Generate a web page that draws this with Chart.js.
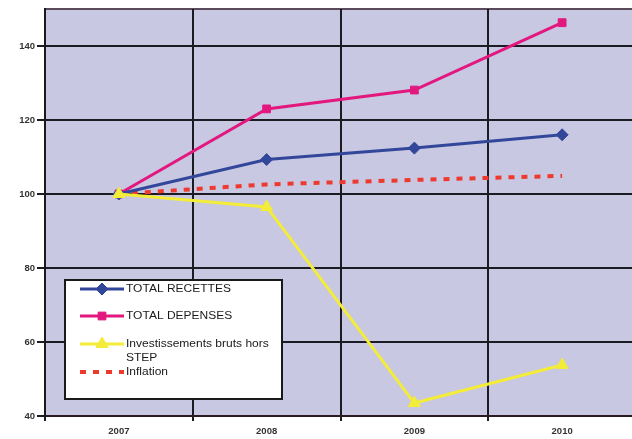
<!DOCTYPE html>
<html><head><meta charset="utf-8">
<script src="https://cdn.jsdelivr.net/npm/chart.js@4/dist/chart.umd.min.js"></script>
<style>html,body{margin:0;padding:0;background:#fff;overflow:hidden}#wrap{width:632px;height:439px;overflow:hidden}canvas{display:block}</style>
</head><body><div id="wrap"><canvas id="c" width="636" height="439"></canvas></div>
<script>
// Index values (2007 = 100)
const years = ['2007', '2008', '2009', '2010'];
const totalRecettes = [100, 109.3, 112.4, 116];
const totalDepenses = [100, 123, 128.1, 146.3];
const investissements = [100, 96.5, 43.5, 53.8];
const inflation = [100, 102.6, 103.8, 104.9];
const yTicks = [40, 60, 80, 100, 120, 140];

const PLOT_BG = '#c8c8e2';
const GRID = '#1c1a22';

// Plot area fill and top border
const plotBackground = {
  id: 'plotBackground',
  beforeDraw(chart) {
    const { ctx, chartArea: a } = chart;
    ctx.save();
    ctx.fillStyle = PLOT_BG;
    ctx.fillRect(a.left, a.top, a.right - a.left, a.bottom - a.top);
    ctx.strokeStyle = '#5a4a5a';
    ctx.lineWidth = 2;
    ctx.beginPath();
    ctx.moveTo(a.left, a.top);
    ctx.lineTo(a.right, a.top);
    ctx.stroke();
    ctx.restore();
  }
};

// Boxed legend drawn inside the plot area
const boxedLegend = {
  id: 'boxedLegend',
  afterDraw(chart) {
    const { ctx } = chart;
    const box = { x: 65, y: 280, w: 217, h: 119 };
    const rows = [289, 316, 344, 372];
    ctx.save();
    ctx.fillStyle = '#ffffff';
    ctx.fillRect(box.x, box.y, box.w, box.h);
    ctx.strokeStyle = '#1a1a1a';
    ctx.lineWidth = 2;
    ctx.strokeRect(box.x, box.y, box.w, box.h);
    ctx.font = '10px "Liberation Sans", Arial, sans-serif';
    ctx.textBaseline = 'middle';
    chart.data.datasets.forEach((ds, i) => {
      const y = rows[i];
      ctx.strokeStyle = ds.borderColor;
      ctx.lineWidth = ds.borderDash ? 4 : 3;
      ctx.setLineDash(ds.borderDash || []);
      ctx.beginPath();
      ctx.moveTo(80, y);
      ctx.lineTo(124, y);
      ctx.stroke();
      ctx.setLineDash([]);
      if (ds.pointRadius > 0) {
        ctx.fillStyle = ds.pointBackgroundColor;
        ctx.strokeStyle = ds.borderColor;
        ctx.lineWidth = 1;
        Chart.helpers.drawPoint(ctx, {
          pointStyle: ds.pointStyle, radius: ds.pointRadius, borderWidth: 1
        }, 102, y);
      }
      // label, wrapped to the box width
      ctx.fillStyle = '#1a1a1a';
      const words = ds.label.split(' ');
      const lines = [];
      let cur = '';
      words.forEach(w => {
        const t = cur ? cur + ' ' + w : w;
        if (ctx.measureText(t).width * 1.2 > 150 && cur) { lines.push(cur); cur = w; }
        else cur = t;
      });
      lines.push(cur);
      lines.forEach((ln, k) => {
        ctx.save();
        ctx.translate(126, y + k * 14);
        ctx.scale(1.2, 1);
        ctx.fillText(ln, 0, 0);
        ctx.restore();
      });
    });
    ctx.restore();
  }
};

const tickFont = { family: '"Liberation Sans", Arial', size: 9.5, weight: 'bold' };

new Chart(document.getElementById('c'), {
  type: 'line',
  data: {
    labels: years,
    datasets: [
      {
        label: 'TOTAL RECETTES', data: totalRecettes, order: 2,
        borderColor: '#33479a', backgroundColor: '#33479a', pointBackgroundColor: '#33479a',
        borderWidth: 3, pointStyle: 'rectRot', pointRadius: 6, pointBorderWidth: 1
      },
      {
        label: 'TOTAL DEPENSES', data: totalDepenses, order: 3,
        borderColor: '#e2187f', backgroundColor: '#e2187f', pointBackgroundColor: '#e2187f',
        borderWidth: 3, pointStyle: 'rect', pointRadius: 5.5, pointBorderWidth: 1
      },
      {
        label: 'Investissements bruts hors STEP', data: investissements, order: 1,
        borderColor: '#f3ec38', backgroundColor: '#f3ec38', pointBackgroundColor: '#f3ec38',
        borderWidth: 3, pointStyle: 'triangle', pointRadius: 7, pointBorderWidth: 1
      },
      {
        label: 'Inflation', data: inflation, order: 4,
        borderColor: '#ee3a2e', backgroundColor: '#ee3a2e', pointBackgroundColor: '#ee3a2e',
        borderWidth: 4, borderDash: [6, 7], pointRadius: 0
      }
    ]
  },
  options: {
    responsive: false,
    animation: false,
    layout: { autoPadding: false, padding: { top: 9, right: 0, left: 0, bottom: 0 } },
    plugins: { legend: { display: false }, tooltip: { enabled: false } },
    scales: {
      x: {
        offset: true,
        grid: { offset: true, color: GRID, lineWidth: 2, tickLength: 5, drawTicks: true },
        border: { color: '#2a1a22', width: 2 },
        ticks: { color: '#333', font: tickFont, padding: 5 },
        afterFit(s) { s.height = 23; }
      },
      y: {
        min: 40, max: 150,
        afterBuildTicks(s) { s.ticks = yTicks.map(v => ({ value: v })); },
        grid: { color: GRID, lineWidth: 2, tickLength: 8 },
        border: { color: '#1a1a1a', width: 2 },
        ticks: { color: '#333', font: tickFont, padding: 2 },
        afterFit(s) { s.width = 45; }
      }
    }
  },
  plugins: [plotBackground, boxedLegend]
});
</script>
</body></html>
